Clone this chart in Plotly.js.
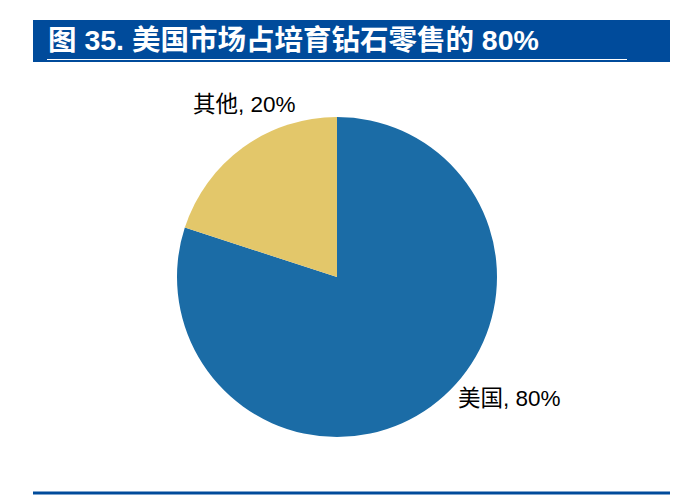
<!DOCTYPE html>
<html>
<head>
<meta charset="utf-8">
<script src="https://cdn.plot.ly/plotly-3.0.1.min.js"></script>
<style>html,body{margin:0;padding:0;background:#fff;}#chart{width:696px;height:496px;}</style>
</head>
<body>
<div id="chart"></div>
<script>
const chartTitle = "图 35. 美国市场占培育钻石零售的 80%";
const labels = ["美国", "其他"];
const values = [80, 20];
const colors = ["#1B6CA6", "#E3C76A"];

const W = 696, H = 496;
const px = x => x / W;
const py = y => 1 - y / H;

const total = values.reduce((a, b) => a + b, 0);
const labelTexts = labels.map((l, i) => l + ", " + Math.round(values[i] / total * 100) + "%");

const trace = {
  type: "pie",
  labels: labels,
  values: values,
  sort: false,
  direction: "clockwise",
  rotation: 0,
  textinfo: "none",
  hoverinfo: "label+percent",
  marker: {colors: colors, line: {width: 0}},
  domain: {x: [px(177), px(497)], y: [py(437), py(117)]},
  showlegend: false
};

const labelFont = {family: "'Liberation Sans', 'Noto Sans CJK SC', sans-serif", size: 22.5, color: "#000"};

const layout = {
  width: W, height: H,
  margin: {l: 0, r: 0, t: 0, b: 0},
  paper_bgcolor: "#fff",
  showlegend: false,
  shapes: [
    {type: "rect", xref: "paper", yref: "paper", x0: px(33), x1: px(670), y0: py(62), y1: py(20), fillcolor: "#004B9B", line: {width: 0}, layer: "below"},
    {type: "line", xref: "paper", yref: "paper", x0: px(47), x1: px(627), y0: py(59.5), y1: py(59.5), line: {color: "#fff", width: 1}},
    {type: "line", xref: "paper", yref: "paper", x0: px(33), x1: px(670), y0: py(493), y1: py(493), line: {color: "#004B9B", width: 3}}
  ],
  annotations: [
    {xref: "paper", yref: "paper", x: px(46), y: py(40), xanchor: "left", yanchor: "middle", showarrow: false,
     text: "<b>" + chartTitle + "</b>", font: {family: "'Liberation Sans', 'Noto Sans CJK SC', sans-serif", size: 28.5, color: "#fff"}},
    {xref: "paper", yref: "paper", x: px(191), y: py(105), xanchor: "left", yanchor: "middle", showarrow: false,
     text: labelTexts[1], font: labelFont},
    {xref: "paper", yref: "paper", x: px(456), y: py(398), xanchor: "left", yanchor: "middle", showarrow: false,
     text: labelTexts[0], font: labelFont}
  ]
};

Plotly.newPlot("chart", [trace], layout, {staticPlot: true, displayModeBar: false});
</script>
</body>
</html>
